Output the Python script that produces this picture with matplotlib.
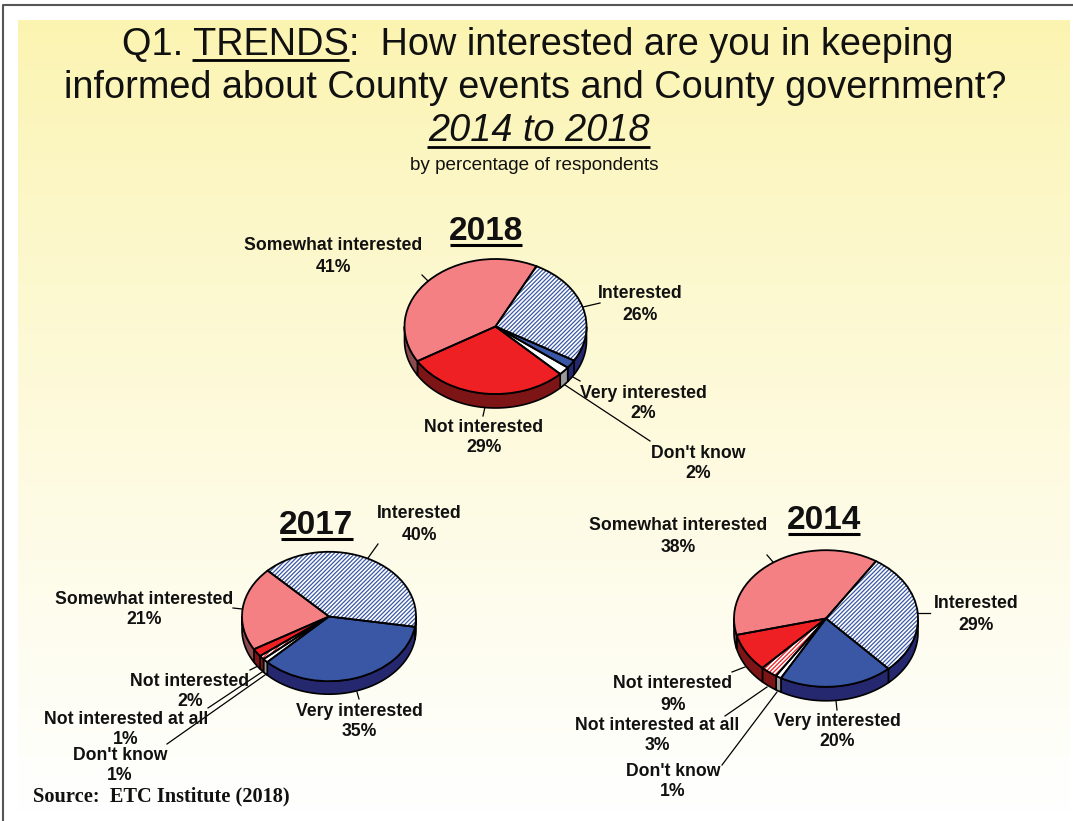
import numpy as np
import matplotlib
matplotlib.use('Agg')
import matplotlib.pyplot as plt
from matplotlib.patches import Polygon, Wedge

plt.rcParams['font.family'] = ['Liberation Sans', 'DejaVu Sans']
plt.rcParams['hatch.linewidth'] = 0.9

W, H = 1073, 821

# 数据
labels_2018 = ['Interested', 'Very interested', "Don't know", 'Not interested', 'Somewhat interested']
values_2018 = [26, 2, 2, 29, 41]
labels_2017 = ['Interested', 'Very interested', "Don't know", 'Not interested at all', 'Not interested', 'Somewhat interested']
values_2017 = [40, 35, 1, 1, 2, 21]
labels_2014 = ['Interested', 'Very interested', "Don't know", 'Not interested at all', 'Not interested', 'Somewhat interested']
values_2014 = [29, 20, 1, 3, 9, 38]

# 颜色: 顶面, 阴影线, 侧面
style = {
    'Interested': ('white', '#3a57a6', '#26286f'),
    'Very interested': ('#3a57a6', None, '#26286f'),
    "Don't know": ('white', None, '#9a9a9a'),
    'Not interested at all': ('white', '#ee2024', '#7d1416'),
    'Not interested': ('#ee2024', None, '#7d1416'),
    'Somewhat interested': ('#f58084', None, '#8a4a4e'),
}

fig = plt.figure(figsize=(W / 100, H / 100), dpi=100)
ax = fig.add_axes([0, 0, 1, 1])
ax.set_xlim(0, W)
ax.set_ylim(H, 0)
ax.axis('off')

# 背景渐变
top = np.array([251, 244, 176]) / 255
bot = np.array([255, 255, 255]) / 255
t = np.linspace(0, 1, 256) ** 0.85
grad = (top[None, :] * (1 - t[:, None]) + bot[None, :] * t[:, None])[:, None, :]
ax.imshow(grad, extent=[18, 1070, 815, 20], aspect='auto', zorder=0)
ax.set_xlim(0, W)
ax.set_ylim(H, 0)
ax.plot([2.5, 2.5, W], [H, 5, 5], color='#555555', lw=1.5, zorder=1)


def pie3d(values, labels, cx, cy, rx, ry, depth, start):
    # 每个饼一个压扁的坐标轴
    pax = fig.add_axes([(cx - rx) / W, 1 - (cy + ry + depth) / H, 2 * rx / W, (2 * ry + depth) / H])
    colors = [style[k][0] for k in labels]
    wedges, _ = pax.pie(values, colors=colors, startangle=90 - start, counterclock=False, radius=1,
                        wedgeprops=dict(linewidth=0))
    pax.set_aspect('auto')
    d = depth / ry
    pax.set_xlim(-1, 1)
    pax.set_ylim(-1 - d, 1)
    pax.axis('off')
    for w, k in zip(wedges, labels):
        face, hatch, side = style[k]
        w.set_clip_on(False)
        w.set_zorder(3)
        if hatch:
            w.set_edgecolor(hatch)
            w.set_hatch('/' * 8)
        # 外轮廓
        pax.add_patch(Wedge((0, 0), 1, w.theta1, w.theta2, fill=False,
                            edgecolor='black', lw=1.3, zorder=4, clip_on=False))
        # 侧面,只画朝下的部分
        for off in (-720, -360, 0, 360):
            a = max(w.theta1, 180 + off)
            b = min(w.theta2, 360 + off)
            if b <= a:
                continue
            th = np.radians(np.linspace(a, b, 60))
            xs = np.cos(th)
            ys = np.sin(th)
            pts = np.r_[np.c_[xs, ys], np.c_[xs[::-1], ys[::-1] - d]]
            pax.add_patch(Polygon(pts, closed=True, facecolor=side, edgecolor='black', lw=1.2, zorder=2, clip_on=False))


pie3d(values_2018, labels_2018, 495.5, 326.5, 91, 67.5, 14, 26.7)
pie3d(values_2017, labels_2017, 329, 616.5, 87, 64.7, 13, -44.8)
pie3d(values_2014, labels_2014, 826, 618.5, 92, 68.3, 14, 32.9)

# 引线
leaders = [
    ((422, 275), (429, 282)), ((583, 307), (600, 303)), ((573, 377), (580, 381)),
    ((565, 385), (650, 441)), ((485, 407), (483, 416)),
    ((368, 558), (378, 544)), ((233, 608), (242, 609)), ((250, 670), (258, 666)),
    ((262, 672), (208, 708)), ((265, 675), (167, 744)), ((357, 692), (359, 699)),
    ((767, 555), (773, 562)), ((918, 613), (930, 613)), ((836, 701), (837, 710)),
    ((732, 672), (745, 667)), ((767, 687), (725, 716)), ((777, 692), (722, 765)),
]
for p, q in leaders:
    ax.plot([p[0], q[0]], [p[1], q[1]], color='black', lw=0.9, zorder=5)

# 标签 (文字, 百分比, x, 第一行y, 第二行y)
slice_text = [
    ('Somewhat interested', '41%', 333, 245, 266), ('Interested', '26%', 640, 293, 314),
    ('Very interested', '2%', 643, 392, 412), ("Don't know", '2%', 698, 452, 473),
    ('Not interested', '29%', 484, 426, 447),
    ('Interested', '40%', 419, 513, 534), ('Somewhat interested', '21%', 144, 598, 619),
    ('Not interested', '2%', 190, 681, 701), ('Not interested at all', '1%', 126, 718, 738),
    ("Don't know", '1%', 120, 754, 775), ('Very interested', '35%', 359, 710, 731),
    ('Somewhat interested', '38%', 678, 525, 546), ('Interested', '29%', 976, 603, 624),
    ('Not interested', '9%', 673, 683, 704), ('Not interested at all', '3%', 657, 724, 745),
    ("Don't know", '1%', 673, 770, 791), ('Very interested', '20%', 837, 721, 741),
]
for name, pct, x, y1, y2 in slice_text:
    ax.text(x, y1 + 1, name, ha='center', va='center', fontsize=12.7, fontweight='bold', color='#111111', zorder=6)
    ax.text(x, y2 + 1, pct, ha='center', va='center', fontsize=12.7, fontweight='bold', color='#111111', zorder=6)

# 年份
for yr, x, y, x0, x1 in [('2018', 486, 230, 450, 522), ('2017', 316, 524, 281, 353), ('2014', 824, 519, 788, 860)]:
    ax.text(x, y + 1.5, yr, ha='center', va='center', fontsize=24, fontweight='bold', color='#111111', zorder=6)
    ax.plot([x0, x1], [y + 15, y + 15], color='black', lw=2.2, zorder=6, solid_capstyle='butt')

# 标题
ax.text(538, 45, 'Q1. TRENDS:  How interested are you in keeping', ha='center', va='center', fontsize=27.3, color='#111111')
ax.text(535, 88, 'informed about County events and County government?', ha='center', va='center', fontsize=27.3, color='#111111')
ax.text(539, 131, '2014 to 2018', ha='center', va='center', fontsize=27.3, style='italic', color='#111111')
ax.text(534, 165, 'by percentage of respondents', ha='center', va='center', fontsize=13.6, color='#111111')
ax.plot([192, 349], [60.5, 60.5], color='black', lw=2, solid_capstyle='butt')
ax.plot([427, 650], [147, 147], color='black', lw=2, solid_capstyle='butt')

ax.text(33, 796, 'Source:  ETC Institute (2018)', ha='left', va='center', fontsize=14.7, fontweight='bold',
        family=['Liberation Serif', 'DejaVu Serif'], color='#111111')

fig.savefig('out.png', dpi=100)
